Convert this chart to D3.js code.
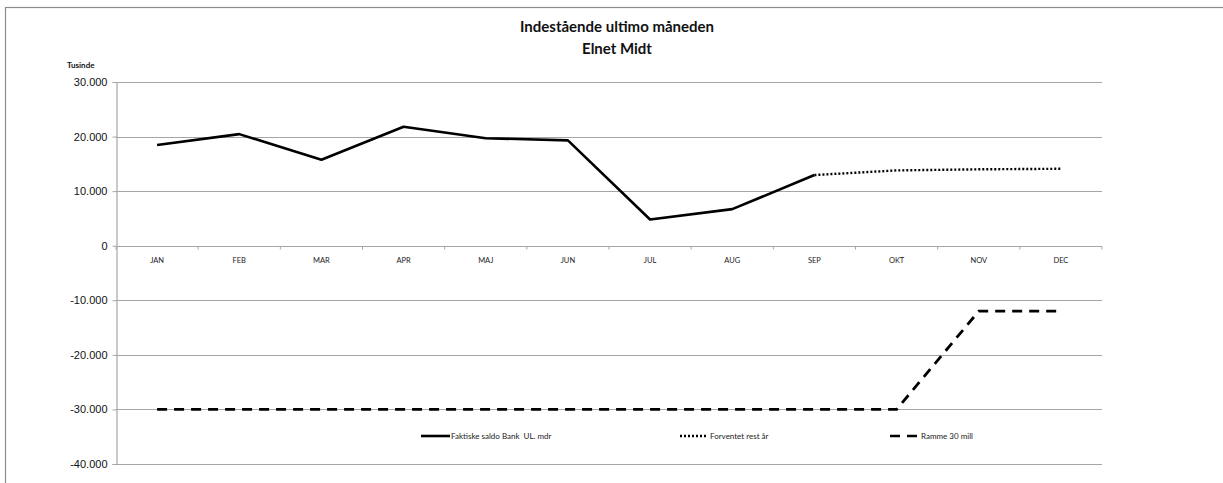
<!DOCTYPE html>
<html>
<head>
<meta charset="utf-8">
<script src="https://cdn.jsdelivr.net/npm/d3@7"></script>
<style>
  body { margin: 0; background: #fff; }
  svg { font-family: Lato, "Open Sans", sans-serif; }
  text { white-space: pre; }
</style>
</head>
<body>
<div id="chart"></div>
<script>
// data (Tusinde)
const months = ['JAN', 'FEB', 'MAR', 'APR', 'MAJ', 'JUN', 'JUL', 'AUG', 'SEP', 'OKT', 'NOV', 'DEC'];
const faktiske = [18450, 20450, 15750, 21800, 19700, 19300, 4800, 6700, 12950, null, null, null];
const forventet = [null, null, null, null, null, null, null, null, 12950, 13800, 14000, 14100];
const ramme = [-30000, -30000, -30000, -30000, -30000, -30000, -30000, -30000, -30000, -30000, -12000, -12000];
const yTicks = [30000, 20000, 10000, 0, -10000, -20000, -30000, -40000];
const seriesNames = ['Faktiske saldo Bank  UL. mdr', 'Forventet rest år', 'Ramme 30 mill'];

(function () {
    const width = 1223, height = 483;
    const plot = { left: 116, right: 1102, top: 82, bottom: 464 };

    const svg = d3.select('#chart').append('svg').attr('width', width).attr('height', height);

    // outer chart frame (runs off the right/bottom edge in the picture)
    svg.append('rect').attr('x', 5.5).attr('y', 7.5).attr('width', 1400).attr('height', 700)
        .attr('fill', 'none').attr('stroke', '#8c8c8c').attr('stroke-width', 1.2);

    const x = d3.scaleBand().domain(months).range([plot.left, plot.right]);
    const y = d3.scaleLinear().domain([-40000, 30000]).range([plot.bottom, plot.top]);
    // danish thousands separator, plain hyphen for negatives
    const fmt = d => (d < 0 ? '-' : '') + d3.format(',')(Math.abs(d)).replace(/,/g, '.');

    // gridlines
    svg.append('g').selectAll('line').data(yTicks).enter().append('line')
        .attr('x1', plot.left).attr('x2', plot.right)
        .attr('y1', d => Math.round(y(d)) + 0.5).attr('y2', d => Math.round(y(d)) + 0.5)
        .attr('stroke', '#a6a6a6').attr('stroke-width', 1.2);

    // y axis
    const yAxis = svg.append('g').attr('transform', `translate(${plot.left + 0.5},0)`)
        .call(d3.axisLeft(y).tickValues(yTicks).tickFormat(fmt).tickSize(4).tickPadding(5));
    yAxis.select('.domain').attr('stroke', '#a6a6a6').attr('stroke-width', 1.2);
    yAxis.selectAll('.tick line').attr('stroke', '#a6a6a6');
    yAxis.selectAll('.tick text').attr('font-size', 11).attr('fill', '#111');

    svg.append('text').attr('x', 67).attr('y', 68).attr('font-size', 8).attr('font-weight', 'bold')
        .attr('fill', '#111').text('Tusinde');

    // x axis at zero, ticks at category boundaries
    const zeroY = Math.round(y(0)) + 0.5;
    const xg = svg.append('g');
    xg.selectAll('line.tk').data(months.concat(['end'])).enter().append('line')
        .attr('x1', (d, i) => i < months.length ? x(d) : plot.right)
        .attr('x2', (d, i) => i < months.length ? x(d) : plot.right)
        .attr('y1', zeroY).attr('y2', zeroY + 3)
        .attr('stroke', '#a6a6a6');
    xg.selectAll('text').data(months).enter().append('text')
        .attr('x', d => x(d) + x.bandwidth() / 2).attr('y', zeroY + 16)
        .attr('text-anchor', 'middle').attr('font-size', 7.5).attr('fill', '#222')
        .text(d => d);

    // lines
    const line = d3.line()
        .defined(d => d != null)
        .x((d, i) => x(months[i]) + x.bandwidth() / 2)
        .y(d => y(d));

    svg.append('path').datum(faktiske).attr('d', line)
        .attr('fill', 'none').attr('stroke', '#000').attr('stroke-width', 2.6)
        .attr('stroke-linejoin', 'round');
    svg.append('path').datum(forventet).attr('d', line)
        .attr('fill', 'none').attr('stroke', '#000').attr('stroke-width', 2.4)
        .attr('stroke-dasharray', '2,2');
    svg.append('path').datum(ramme).attr('d', line)
        .attr('fill', 'none').attr('stroke', '#000').attr('stroke-width', 2.8)
        .attr('stroke-dasharray', '10,7');

    // legend
    const legendY = 436;
    const legendX = [421, 680, 890];
    const legendLen = [29, 26, 27];
    const dashes = [null, '2,2', '10,7'];
    const lg = svg.append('g').selectAll('g').data(seriesNames).enter().append('g')
        .attr('transform', (d, i) => `translate(${legendX[i]},${legendY})`);
    lg.append('line').attr('x1', 0).attr('x2', (d, i) => legendLen[i]).attr('y1', 0).attr('y2', 0)
        .attr('stroke', '#000').attr('stroke-width', (d, i) => i === 0 ? 2.6 : 2.4)
        .attr('stroke-dasharray', (d, i) => dashes[i]);
    lg.append('text').attr('x', (d, i) => legendLen[i] + (i === 0 ? 1 : 4)).attr('y', 3)
        .attr('font-size', 8).attr('fill', '#222').text(d => d);

    // title
    const title = svg.append('text').attr('x', 617).attr('text-anchor', 'middle')
        .attr('font-size', 15).attr('font-weight', 'bold').attr('fill', '#111');
    title.append('tspan').attr('x', 617).attr('y', 32).text('Indestående ultimo måneden');
    title.append('tspan').attr('x', 617).attr('y', 54).text('Elnet Midt');
})();
</script>
</body>
</html>
